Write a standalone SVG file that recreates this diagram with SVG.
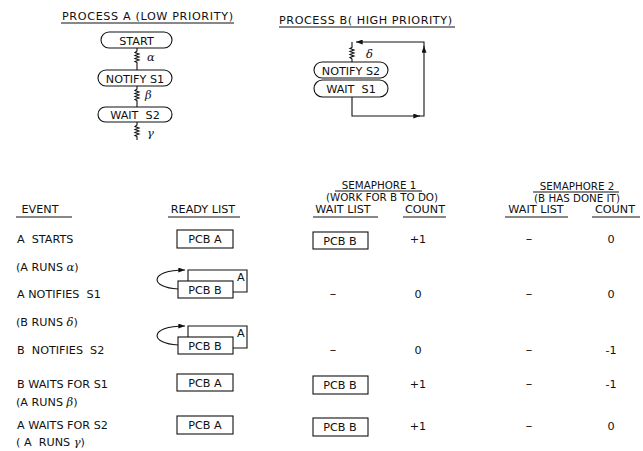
<svg xmlns="http://www.w3.org/2000/svg" width="643" height="451" viewBox="0 0 643 451">
<defs>
<style>
text{font-family:"DejaVu Sans","Liberation Sans",sans-serif;font-size:11.2px;fill:#111;white-space:pre;}
.m{text-anchor:middle;}
.h{font-size:10.3px;}
.d{font-size:13px;}
.gk{font-family:"DejaVu Serif","Liberation Serif",serif;font-size:11.5px;font-style:italic;}
.ln{stroke:#111;stroke-width:1.1;fill:none;}
.box{stroke:#111;stroke-width:1.1;fill:#fff;}
.ul{stroke:#111;stroke-width:1;}
</style>
<marker id="ah" viewBox="0 0 8 6" refX="8" refY="3" markerWidth="7" markerHeight="5" orient="auto" markerUnits="userSpaceOnUse">
<path d="M0,0 L8,3 L0,6 Z" fill="#111"/>
</marker>
</defs>
<rect width="643" height="451" fill="#fff"/>

<g id="titleA">
<text x="62" y="20" textLength="171">PROCESS A (LOW PRIORITY)</text>
<line class="ul" x1="61" y1="23" x2="234" y2="23"/>
</g>
<g id="titleB">
<text x="279" y="24" textLength="173">PROCESS B( HIGH PRIORITY)</text>
<line class="ul" x1="279" y1="27" x2="455" y2="27"/>
</g>

<g id="startA"><rect class="box" x="101" y="32" width="71" height="16" rx="8"/><text class="m" x="136.5" y="44.5">START</text></g>
<g id="notifyS1"><rect class="box" x="98" y="70" width="74" height="16" rx="8"/><text class="m" x="135" y="82.5">NOTIFY S1</text></g>
<g id="waitS2"><rect class="box" x="98" y="107" width="74" height="15" rx="7.5"/><text class="m" x="135" y="119">WAIT  S2</text></g>
<g id="notifyS2"><rect class="box" x="314" y="62" width="74" height="16" rx="8"/><text class="m" x="351" y="74.5">NOTIFY S2</text></g>
<g id="waitS1"><rect class="box" x="314" y="80" width="74" height="17" rx="8.5"/><text class="m" x="351" y="92.5">WAIT  S1</text></g>

<g id="connectors">
<path class="ln" d="M137,48 v3 l-2,1.5 l4,1.5 l-4,1.5 l4,1.5 l-4,1.5 l4,1.5 l-4,1.5 l2,1 V70"/>
<path class="ln" d="M137,86 v3 l-2,1.5 l4,1.5 l-4,1.5 l4,1.5 l-4,1.5 l4,1.5 l-4,1.5 l2,1 V107"/>
<path class="ln" d="M137,122 v3 l-2,1.5 l4,1.5 l-4,1.5 l4,1.5 l-4,1.5 l4,1.5 l-4,1.5 l2,1 V140"/>
<path class="ln" d="M352,62 v-3 l-2,-1.5 l4,-1.5 l-4,-1.5 l4,-1.5 l-4,-1.5 l4,-1.5 l-4,-1.5 l2,-1 V42"/>
<path class="ln" d="M352,97 V116 H420" marker-end="url(#ah)"/>
<path class="ln" d="M419,116 H424 V46" marker-end="url(#ah)"/>
<path class="ln" d="M424,47 V42 H356" marker-end="url(#ah)"/>
</g>
<text class="gk" x="147" y="61">α</text>
<text class="gk" x="145" y="99">β</text>
<text class="gk" x="147" y="137">γ</text>
<text class="gk" x="366" y="58">δ</text>

<g id="headers">
<text class="m h" x="379" y="189">SEMAPHORE 1</text>
<line class="ul" x1="335" y1="191" x2="422" y2="191"/>
<text class="m h" x="382" y="201">(WORK FOR B TO DO)</text>
<text class="m h" x="577" y="190">SEMAPHORE 2</text>
<line class="ul" x1="533" y1="192" x2="619" y2="192"/>
<text class="m h" x="577" y="202">(B HAS DONE IT)</text>
<text class="m" x="40" y="213">EVENT</text>
<line class="ul" x1="16" y1="217" x2="72" y2="217"/>
<text class="m" x="203" y="213">READY LIST</text>
<line class="ul" x1="168" y1="217" x2="240" y2="217"/>
<text class="m" x="343" y="213">WAIT LIST</text>
<line class="ul" x1="313" y1="217" x2="378" y2="217"/>
<text class="m" x="425" y="213">COUNT</text>
<line class="ul" x1="403" y1="217" x2="446" y2="217"/>
<text class="m" x="536" y="213">WAIT LIST</text>
<line class="ul" x1="505" y1="217" x2="568" y2="217"/>
<text class="m" x="615" y="213">COUNT</text>
<line class="ul" x1="592" y1="217" x2="640" y2="217"/>
</g>

<g id="events">
<text x="17" y="243">A  STARTS</text>
<text x="16" y="271">(A RUNS <tspan class="gk">α</tspan>)</text>
<text x="17" y="298">A NOTIFIES  S1</text>
<text x="16" y="326">(B RUNS <tspan class="gk">δ</tspan>)</text>
<text x="17" y="354">B  NOTIFIES  S2</text>
<text x="17" y="388">B WAITS FOR S1</text>
<text x="16" y="406">(A RUNS <tspan class="gk">β</tspan>)</text>
<text x="17" y="429">A WAITS FOR S2</text>
<text x="16" y="446">( A  RUNS <tspan class="gk">γ</tspan>)</text>
</g>

<g id="row1">
<rect class="box" x="177" y="230" width="56" height="18"/><text class="m" x="205" y="243">PCB A</text>
<rect class="box" x="313" y="232" width="55" height="17"/><text class="m" x="340" y="244.5">PCB B</text>
<text class="m" x="418" y="243">+1</text><text class="m d" x="529" y="243">–</text><text class="m" x="611" y="243">0</text>
</g>
<g id="row2">
<path class="ln" d="M188,281 V270 H247 V292 H233"/>
<path class="ln" d="M178,289 C150,288 148,270 185,270" marker-end="url(#ah)"/>
<text x="237" y="281">A</text>
<rect class="box" x="178" y="281" width="55" height="17"/><text class="m" x="205" y="294">PCB B</text>
<text class="m d" x="333" y="298">–</text><text class="m" x="418" y="298">0</text><text class="m d" x="529" y="298">–</text><text class="m" x="611" y="298">0</text>
</g>
<g id="row3">
<path class="ln" d="M188,337 V326 H247 V348 H233"/>
<path class="ln" d="M178,345 C150,344 148,326 185,326" marker-end="url(#ah)"/>
<text x="237" y="337">A</text>
<rect class="box" x="178" y="337" width="55" height="17"/><text class="m" x="205" y="350">PCB B</text>
<text class="m d" x="333" y="354">–</text><text class="m" x="418" y="354">0</text><text class="m d" x="529" y="354">–</text><text class="m" x="611" y="354">-1</text>
</g>
<g id="row4">
<rect class="box" x="177" y="374" width="56" height="17"/><text class="m" x="205" y="387">PCB A</text>
<rect class="box" x="313" y="376" width="55" height="18"/><text class="m" x="340" y="389">PCB B</text>
<text class="m" x="418" y="388">+1</text><text class="m d" x="529" y="388">–</text><text class="m" x="611" y="388">-1</text>
</g>
<g id="row5">
<rect class="box" x="177" y="416" width="56" height="18"/><text class="m" x="205" y="429">PCB A</text>
<rect class="box" x="313" y="418" width="55" height="18"/><text class="m" x="340" y="431">PCB B</text>
<text class="m" x="418" y="430">+1</text><text class="m d" x="529" y="430">–</text><text class="m" x="611" y="430">0</text>
</g>
</svg>
